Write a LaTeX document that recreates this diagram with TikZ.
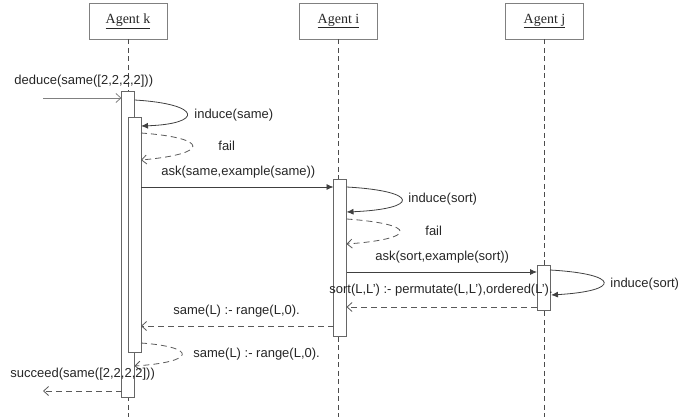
\documentclass[tikz,border=0pt]{standalone}
\usepackage{fontspec}
\setmainfont{Liberation Sans}
\newfontfamily\agentfont{Liberation Serif}
\usetikzlibrary{arrows.meta}

\begin{document}
\begin{tikzpicture}[x=1pt,y=-1pt,line width=0.8pt,
  agent/.style={draw=black!50,fill=white,minimum width=78pt,minimum height=36pt,inner sep=0pt,text=black!85,font=\agentfont\fontsize{14}{16}\selectfont},
  act/.style={draw=black!60,fill=white,minimum width=13pt,inner sep=0pt},
  life/.style={draw=black!70,dash pattern=on 5pt off 3.5pt},
  msg/.style={draw=black!75,-{Latex[length=7pt,width=6pt]}},
  ret/.style={draw=black!65,dash pattern=on 6pt off 4pt,-{Straight Barb[length=5pt,width=9pt]}},
  lbl/.style={anchor=west,inner sep=0pt,text=black!85,font=\fontsize{13}{15}\selectfont}]
\useasboundingbox (0,0) rectangle (699,417);
% agents and lifelines
\node[agent] (agk) at (128,21) {\underline{Agent k}};
\node[agent] (agi) at (338.5,21) {\underline{Agent i}};
\node[agent] (agj) at (544.5,21) {\underline{Agent j}};
\coordinate (endk) at (128,417);
\coordinate (endi) at (338.5,417);
\coordinate (endj) at (544.5,417);
\draw[life] (agk.south)--(endk);
\draw[life] (agi.south)--(endi);
\draw[life] (agj.south)--(endj);
% activations
\node[act,minimum height=306pt] (actk) at (128,244) {};
\node[act,minimum height=235pt] (actk2) at (134.5,234.5) {};
\node[act,minimum height=157pt] (acti) at (340,257.5) {};
\node[act,minimum height=45pt] (actj) at (543.5,287.5) {};
% deduce
\coordinate (dedS) at (43,98);
\coordinate (dedE) at (121.5,98);
\draw[draw=black!50,-{Straight Barb[length=5pt,width=9pt]}] (dedS)--(dedE);
\node[lbl] (ded) at (14,81) {deduce(same([2,2,2,2]))};
% induce(same)
\coordinate (indS) at (134.5,100);
\coordinate (indE) at (141,126);
\draw[msg] (indS) .. controls (203,104) and (203,124) .. (indE);
\node[lbl] (ind) at (194,115.5) {induce(same)};
% fail
\coordinate (failS) at (141,133);
\coordinate (failE) at (141,160);
\draw[ret] (failS) .. controls (210,138) and (210,154) .. (failE);
\node[lbl] (fail) at (218,146) {fail};
% ask same
\coordinate (askS) at (141,187);
\coordinate (askE) at (333.5,187);
\draw[msg] (askS)--(askE);
\node[lbl] (ask) at (161,172) {ask(same,example(same))};
% induce(sort) on i
\coordinate (indiS) at (346.5,187);
\coordinate (indiE) at (346.5,212);
\draw[msg] (indiS) .. controls (420,191) and (420,209) .. (indiE);
\node[lbl] (indi) at (408,199) {induce(sort)};
% fail on i
\coordinate (failiS) at (346.5,219);
\coordinate (failiE) at (346.5,244);
\draw[ret] (failiS) .. controls (418,224) and (418,239) .. (failiE);
\node[lbl] (faili) at (425,231) {fail};
% ask sort
\coordinate (asksS) at (346.5,272);
\coordinate (asksE) at (537,272);
\draw[msg] (asksS)--(asksE);
\node[lbl] (asks) at (375,257) {ask(sort,example(sort))};
% induce(sort) on j
\coordinate (indjS) at (550,270);
\coordinate (indjE) at (551,295);
\draw[msg] (indjS) .. controls (621,274) and (621,291) .. (indjE);
\node[lbl] (indj) at (610,284) {induce(sort)};
% sort answer
\coordinate (sortS) at (537,307);
\coordinate (sortE) at (346.5,307);
\draw[ret] (sortS)--(sortE);
\node[lbl] (sort) at (329,290) {sort(L,L') :- permutate(L,L'),ordered(L').};
% same answer
\coordinate (sameS) at (333.5,326);
\coordinate (sameE) at (141,326);
\draw[ret] (sameS)--(sameE);
\node[lbl] (same) at (173,311) {same(L) :- range(L,0).};
% self return on k
\coordinate (selfS) at (141,343);
\coordinate (selfE) at (134.5,366);
\draw[ret] (selfS) .. controls (197,347) and (197,362) .. (selfE);
\node[lbl] (self) at (193,354) {same(L) :- range(L,0).};
% succeed
\coordinate (sucS) at (121.5,391);
\coordinate (sucE) at (43,391);
\draw[ret] (sucS)--(sucE);
\node[lbl] (suc) at (10,374) {succeed(same([2,2,2,2]))};
\end{tikzpicture}
\end{document}
